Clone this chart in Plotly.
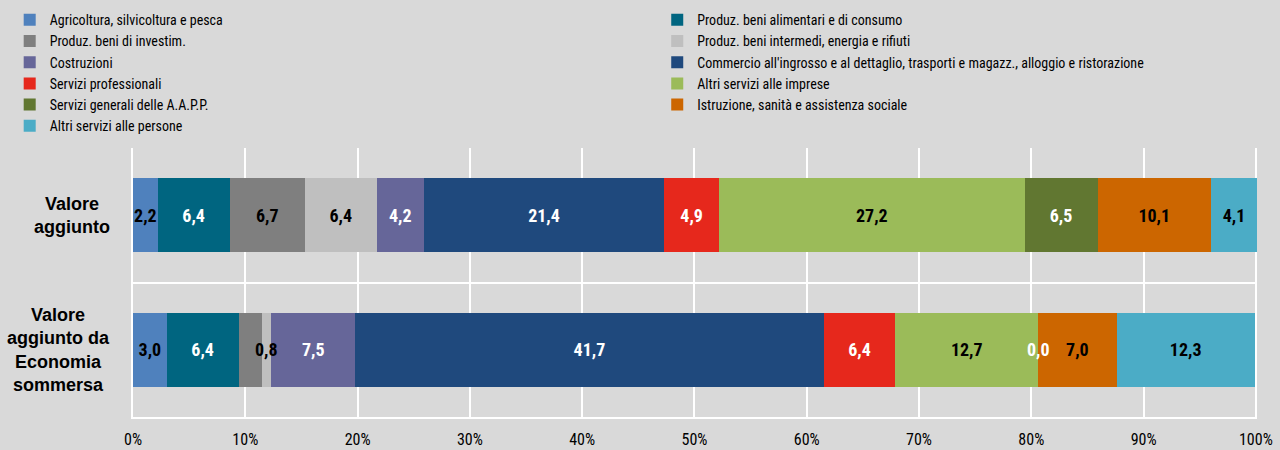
import plotly.graph_objects as go

categories = ["Valore aggiunto", "Valore aggiunto da Economia sommersa"]
category_labels = ["Valore<br>aggiunto", "Valore<br>aggiunto da<br>Economia<br>sommersa"]

sectors = [
    "Agricoltura, silvicoltura e pesca",
    "Produz. beni alimentari e di consumo",
    "Produz. beni di investim.",
    "Produz. beni intermedi, energia e rifiuti",
    "Costruzioni",
    "Commercio all'ingrosso e al dettaglio, trasporti e magazz., alloggio e ristorazione",
    "Servizi professionali",
    "Altri servizi alle imprese",
    "Servizi generali delle A.A.P.P.",
    "Istruzione, sanità e assistenza sociale",
    "Altri servizi alle persone",
]

valore_aggiunto = [2.2, 6.4, 6.7, 6.4, 4.2, 21.4, 4.9, 27.2, 6.5, 10.1, 4.1]
valore_sommerso = [3.0, 6.4, 2.1, 0.8, 7.5, 41.7, 6.4, 12.7, 0.0, 7.0, 12.3]
# whether each value carries a data label (the 2,1 of the sommersa row is not labelled)
show_label_va = [True] * 11
show_label_som = [True, True, False, True, True, True, True, True, True, True, True]

colors = ["#4f81bd", "#006580", "#7f7f7f", "#bfbfbf", "#666699", "#1f497d",
          "#e6281c", "#9bbb59", "#617731", "#cc6600", "#4bacc6"]
label_colors = ["black", "white", "black", "black", "white", "white",
                "white", "black", "white", "black", "black"]

x_ticks = list(range(0, 101, 10))
x_ticktext = [f"{v}%" for v in x_ticks]

NARROW = "Liberation Sans Narrow, Arial Narrow, Roboto Condensed, DejaVu Sans Condensed, Liberation Sans, sans-serif"
BOLD = "Liberation Sans, Arial, sans-serif"
LABEL_SIZE = 18
MIN_FIT = 1.5  # segments narrower than this (in %) get their label drawn on top

series_by_cat = [valore_aggiunto, valore_sommerso]
show_by_cat = [show_label_va, show_label_som]


def fmt(v):
    return f"{v:.1f}".replace(".", ",")


fig = go.Figure()
for i, name in enumerate(sectors):
    tt = []
    for vals, shows in zip(series_by_cat, show_by_cat):
        tt.append("%{x:.1f}" if (shows[i] and vals[i] >= MIN_FIT) else "")
    fig.add_trace(go.Bar(
        y=categories,
        x=[valore_aggiunto[i], valore_sommerso[i]],
        name=name,
        orientation="h",
        marker=dict(color=colors[i], line=dict(width=0)),
        width=0.55,
        texttemplate=tt,
        textposition="inside",
        insidetextanchor="middle",
        textangle=0,
        insidetextfont=dict(family=NARROW, size=LABEL_SIZE, color=label_colors[i], weight="bold"),
        cliponaxis=False,
        legend="legend" if i % 2 == 0 else "legend2",
        hoverinfo="name+x",
    ))

# very narrow / zero-width segments: label them above the stack at their centre
for cat, vals, shows in zip(categories, series_by_cat, show_by_cat):
    cum = 0.0
    for i, v in enumerate(vals):
        if shows[i] and v < MIN_FIT:
            fig.add_annotation(
                x=cum + v / 2, xref="x", y=cat, yref="y", text=fmt(v),
                showarrow=False, xanchor="center", yanchor="middle",
                font=dict(family=NARROW, size=LABEL_SIZE, color=label_colors[i], weight="bold"),
            )
        cum += v

for cat, lab in zip(categories, category_labels):
    fig.add_annotation(
        x=-0.019, xref="paper", y=cat, yref="y",
        text=lab, showarrow=False, xanchor="right", yanchor="middle", align="center",
        font=dict(family=BOLD, size=18, color="black", weight="bold"),
    )

legend_common = dict(
    orientation="v", yanchor="top", xanchor="left",
    bgcolor="rgba(0,0,0,0)", font=dict(family=NARROW, size=14, color="black"),
    traceorder="normal", itemclick=False, itemdoubleclick=False,
    tracegroupgap=0,
)

fig.update_layout(
    width=1280, height=450,
    margin=dict(l=133, r=23, t=148, b=33, autoexpand=False),
    paper_bgcolor="#d9d9d9",
    plot_bgcolor="#d9d9d9",
    barmode="stack",
    separators=",.",
    uniformtext=dict(minsize=LABEL_SIZE, mode="show"),
    showlegend=True,
    legend=dict(x=-0.1097, y=1.5345, **legend_common),
    legend2=dict(x=0.4664, y=1.5345, **legend_common),
    xaxis=dict(
        range=[0, 100.1], tickmode="array", tickvals=x_ticks, ticktext=x_ticktext,
        showgrid=True, gridcolor="white", gridwidth=2,
        showline=True, linecolor="white", linewidth=2,
        zeroline=False, ticks="",
        tickfont=dict(family=NARROW, size=16, color="black"),
        ticklabelstandoff=7,
    ),
    yaxis=dict(
        type="category", categoryorder="array", categoryarray=categories,
        autorange="reversed", tickson="boundaries",
        showgrid=True, gridcolor="white", gridwidth=2,
        showline=True, linecolor="white", linewidth=2,
        showticklabels=False, ticks="",
    ),
)

fig.write_html("out.html", config={"displayModeBar": False},
               post_script="document.body.style.margin='0px';")
